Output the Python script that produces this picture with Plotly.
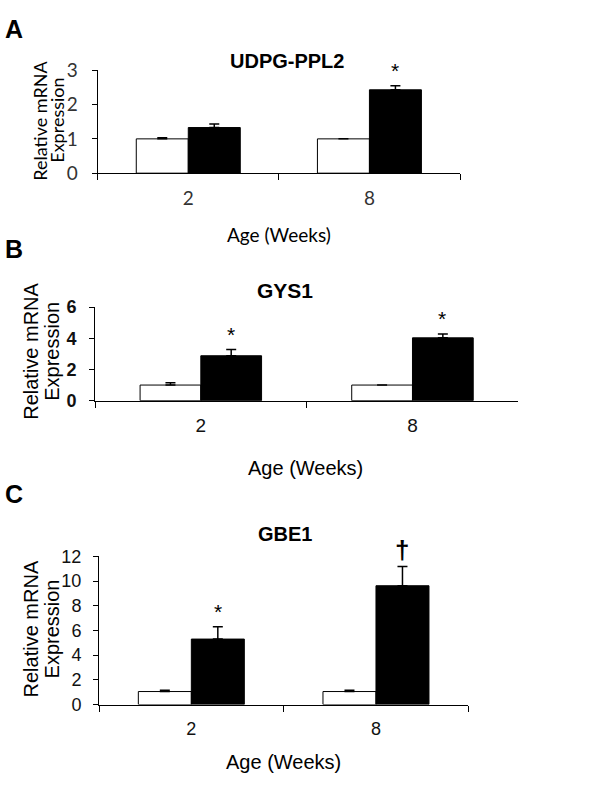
import plotly.graph_objects as go

W, H = 611, 789

ages = ["2", "8"]

# Panel A: UDPG-PPL2
a_ctrl = [1.0, 1.0]
a_ctrl_err = [0.03, 0.0]
a_trt = [1.33, 2.43]
a_trt_err = [0.10, 0.12]

# Panel B: GYS1
b_ctrl = [1.0, 1.0]
b_ctrl_err = [0.15, 0.0]
b_trt = [2.88, 4.03]
b_trt_err = [0.40, 0.25]

# Panel C: GBE1
c_ctrl = [1.05, 1.05]
c_ctrl_err = [0.10, 0.10]
c_trt = [5.3, 9.62]
c_trt_err = [1.0, 1.55]

a_marks = ["", "*"]
b_marks = ["*", "*"]
c_marks = ["*", "\u2020"]


def px(x):
    return x / W


def py(y):
    return 1 - y / H


fig = go.Figure()

lato = dict(family="Lato", size=19, color="#333")
arial = dict(family="Liberation Sans", size=19, color="#111")
arial_b = dict(family="Liberation Sans", size=18, color="#111", weight="bold")
arial_c = dict(family="Liberation Sans", size=18, color="#111")

panels = [
    dict(ax="", ctrl=a_ctrl, ce=a_ctrl_err, trt=a_trt, te=a_trt_err, marks=a_marks,
         xd=[97.7, 460], yd=[166, 60], yr=[0, 3], dt=1,
         xfont=lato, yfont=lato, bw=26, cap=5, stand=10),
    dict(ax="2", ctrl=b_ctrl, ce=b_ctrl_err, trt=b_trt, te=b_trt_err, marks=b_marks,
         xd=[95, 518.3], yd=[400.3, 304], yr=[0, 6], dt=2,
         xfont=arial, yfont=arial_b, bw=30, cap=5, stand=9),
    dict(ax="3", ctrl=c_ctrl, ce=c_ctrl_err, trt=c_trt, te=c_trt_err, marks=c_marks,
         xd=[99, 468.3], yd=[713.3, 560.7], yr=[0, 12], dt=2,
         xfont=arial_c, yfont=arial_c, bw=26.5, cap=5, stand=8),
]

annotations = []
for p in panels:
    xa = "x" + p["ax"]
    ya = "y" + p["ax"]
    fig.add_trace(go.Bar(
        x=ages, y=p["ctrl"], xaxis=xa, yaxis=ya, showlegend=False,
        marker=dict(color="white", line=dict(color="black", width=1)),
        error_y=dict(type="data", symmetric=False, array=p["ce"], arrayminus=[0, 0],
                     color="black", thickness=1.5, width=p["cap"]),
        offsetgroup="ctrl",
    ))
    fig.add_trace(go.Bar(
        x=ages, y=p["trt"], xaxis=xa, yaxis=ya, showlegend=False,
        marker=dict(color="black", line=dict(color="black", width=1)),
        error_y=dict(type="data", symmetric=False, array=p["te"], arrayminus=[0, 0],
                     color="black", thickness=1.5, width=p["cap"]),
        offsetgroup="trt",
    ))
    xkey = "xaxis" + p["ax"]
    ykey = "yaxis" + p["ax"]
    fig.layout[xkey] = dict(
        domain=[px(p["xd"][0]), px(p["xd"][1])], anchor=ya, type="category",
        range=[-0.5, 1.5], showline=True, linecolor="black", linewidth=1,
        ticks="outside", tickson="boundaries", ticklen=6, tickcolor="black",
        showgrid=False, zeroline=False, tickfont=p["xfont"], fixedrange=True,
        ticklabelstandoff=8,
    )
    fig.layout[ykey] = dict(
        domain=[py(p["yd"][0]), py(p["yd"][1])], anchor=xa, range=p["yr"], dtick=p["dt"],
        showline=True, linecolor="black", linewidth=1, ticks="outside", ticklen=5,
        tickcolor="black", showgrid=False, zeroline=False, tickfont=p["yfont"],
        fixedrange=True, ticklabelstandoff=p["stand"],
    )
    for i, m in enumerate(p["marks"]):
        if not m:
            continue
        big = m != "*"
        annotations.append(dict(
            x=i, y=p["trt"][i] + p["te"][i], xref=xa, yref=ya,
            text=("<b>%s</b>" % m) if big else m, showarrow=False, xshift=p["bw"],
            yanchor="bottom", yshift=0 if big else 2,
            font=dict(family="Liberation Sans", size=26 if big else 21, color="black"),
        ))


def txt(x, y, s, size, family="Liberation Sans", bold=False, angle=0):
    annotations.append(dict(
        x=px(x), y=py(y), xref="paper", yref="paper", text=("<b>%s</b>" % s) if bold else s,
        showarrow=False, xanchor="center", yanchor="middle", textangle=angle,
        font=dict(family=family, size=size, color="black"),
    ))

# Panel A
txt(14, 18, "A", 25, bold=True)
txt(287, 50, "UDPG-PPL2", 20, bold=True)
txt(40, 112, "Relative mRNA", 18, family="Lato", angle=-90)
txt(57, 112, "Expression", 18, family="Lato", angle=-90)
txt(279, 229, "Age (Weeks)", 19, family="Lato")

# Panel B
txt(14, 244, "B", 25, bold=True)
txt(285, 287, "GYS1", 21, bold=True)
txt(31, 350, "Relative mRNA", 20, angle=-90)
txt(52, 350, "Expression", 20, angle=-90)
txt(305, 470, "Age (Weeks)", 20)

# Panel C
txt(14, 496, "C", 25, bold=True)
txt(285, 538, "GBE1", 20, bold=True)
txt(31, 636, "Relative mRNA", 20, angle=-90)
txt(52, 636, "Expression", 20, angle=-90)
txt(283, 773, "Age (Weeks)", 20)

fig.update_layout(
    width=W, height=H, margin=dict(l=0, r=0, t=0, b=0, pad=0),
    paper_bgcolor="white", plot_bgcolor="white",
    barmode="group", bargap=0.426, bargroupgap=0,
    annotations=annotations, showlegend=False,
)

fig.write_html("out.html", config={"displayModeBar": False},
               post_script="document.body.style.margin='0px';document.documentElement.style.overflow='hidden';document.body.style.overflow='hidden';")
